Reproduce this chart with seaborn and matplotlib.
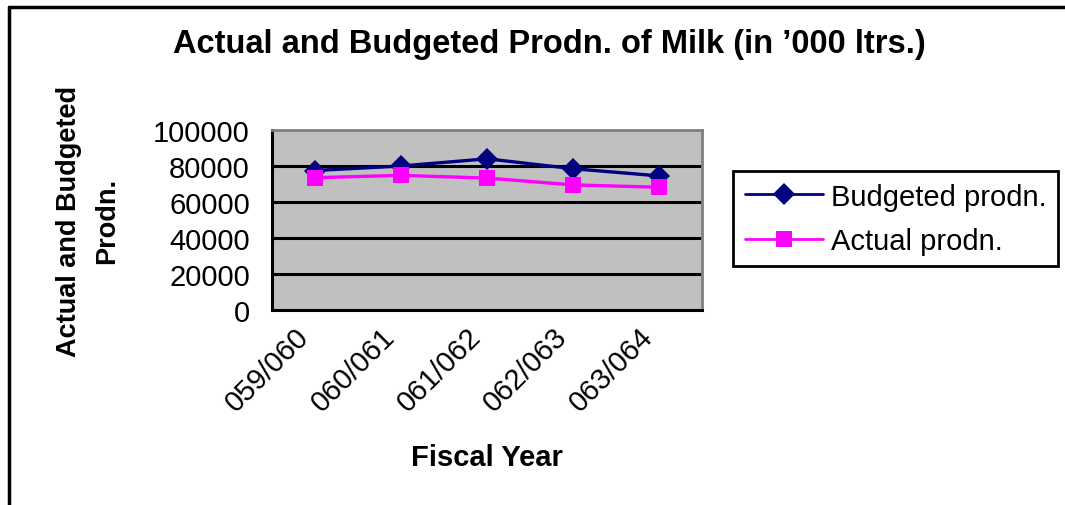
import matplotlib
matplotlib.use("Agg")
import matplotlib.pyplot as plt
import matplotlib.transforms as mtransforms
from matplotlib.lines import Line2D
import seaborn as sns
import pandas as pd

# Fiscal years and milk production ('000 litres)
years = ["059/060", "060/061", "061/062", "062/063", "063/064"]
budgeted = [77500, 80000, 84000, 78500, 74500]
actual = [73500, 74800, 73300, 69500, 68200]
series_names = ["Budgeted prodn.", "Actual prodn."]
y_ticks = [0, 20000, 40000, 60000, 80000, 100000]

df = pd.DataFrame({
    "Fiscal Year": years * 2,
    "value": budgeted + actual,
    "series": [series_names[0]] * len(years) + [series_names[1]] * len(years),
})

sns.set_theme(style="white")
plt.rcParams["font.family"] = ["Liberation Sans", "DejaVu Sans"]
plt.rcParams.update({"text.color": "black", "axes.labelcolor": "black",
                     "xtick.color": "black", "ytick.color": "black"})

colors = {series_names[0]: "#000080", series_names[1]: "#FF00FF"}
markers = {series_names[0]: "D", series_names[1]: "s"}

fig = plt.figure(figsize=(10.65, 5.06), dpi=100)
ax = fig.add_axes([272 / 1065, 1 - 311 / 506, 430 / 1065, 180 / 506])
ax.set_facecolor("#C0C0C0")

sns.lineplot(data=df, x="Fiscal Year", y="value", hue="series", style="series",
             palette=colors, markers=markers, dashes=False, sort=False,
             markersize=11, markeredgewidth=0, linewidth=2.4, ax=ax, legend=False,
             zorder=3)

ax.set_xlim(-0.5, len(years) - 0.5)
ax.set_ylim(0, 100000)
ax.set_yticks(y_ticks)
ax.set_yticklabels([str(v) for v in y_ticks], fontsize=21)
ax.set_xticks(range(len(years)))
ax.set_xticklabels(years, rotation=45, ha="right", va="center", fontsize=21,
                   rotation_mode="anchor")
ax.tick_params(axis="x", which="major", length=0, pad=16)
# nudge the slanted year labels slightly left of the category centres
shift = mtransforms.ScaledTranslation(-10 / 100, 0, fig.dpi_scale_trans)
for lbl in ax.get_xticklabels():
    lbl.set_transform(lbl.get_transform() + shift)
ax.set_xticks([i - 0.5 for i in range(len(years) + 1)], minor=True)
ax.tick_params(axis="x", which="minor", direction="out", length=7, width=2, color="black")
ax.tick_params(axis="y", which="major", direction="inout", length=12, width=2,
               color="black", pad=10)

for v in y_ticks[1:-1]:
    ax.axhline(v, color="black", linewidth=2.2, zorder=1)

for side in ["left", "bottom"]:
    ax.spines[side].set_color("black")
    ax.spines[side].set_linewidth(2.2)
for side in ["top", "right"]:
    ax.spines[side].set_color("#808080")
    ax.spines[side].set_linewidth(2)

ax.set_xlabel("Fiscal Year", fontsize=21, fontweight="bold")
ax.xaxis.set_label_coords(0.5, (311 - 458) / 180)
ax.xaxis.label.set_va("center")
ax.set_ylabel("Actual and Budgeted\nProdn.", fontsize=19.5, fontweight="bold",
              linespacing=1.65)
ax.yaxis.set_label_coords((88 - 272) / 430, 0.5)
ax.yaxis.label.set_va("center")

fig.text(549 / 1065, 1 - 45 / 506, "Actual and Budgeted Prodn. of Milk (in \u2019000 ltrs.)",
         ha="center", va="center", fontsize=23.5, fontweight="bold")

handles = [Line2D([], [], color=colors[n], marker=markers[n], markersize=11,
                  markeredgewidth=0, linewidth=2) for n in series_names]
leg = fig.legend(handles, series_names, loc="upper left",
                 bbox_to_anchor=(733 / 1065, 1 - 172 / 506), fontsize=21,
                 frameon=True, fancybox=False, edgecolor="black", framealpha=1,
                 handlelength=2.7, handletextpad=0.25, borderpad=0.4,
                 labelspacing=0.55, borderaxespad=0)
leg.get_frame().set_linewidth(2)

# Outer chart frame (left and top edges)
fig.add_artist(Line2D([9 / 1065, 9 / 1065], [0, 1 - 8 / 506], color="black",
                      linewidth=2.5, transform=fig.transFigure))
fig.add_artist(Line2D([9 / 1065, 1], [1 - 8 / 506, 1 - 8 / 506], color="black",
                      linewidth=2.5, transform=fig.transFigure))

fig.savefig("out.png", dpi=100, facecolor="white")
